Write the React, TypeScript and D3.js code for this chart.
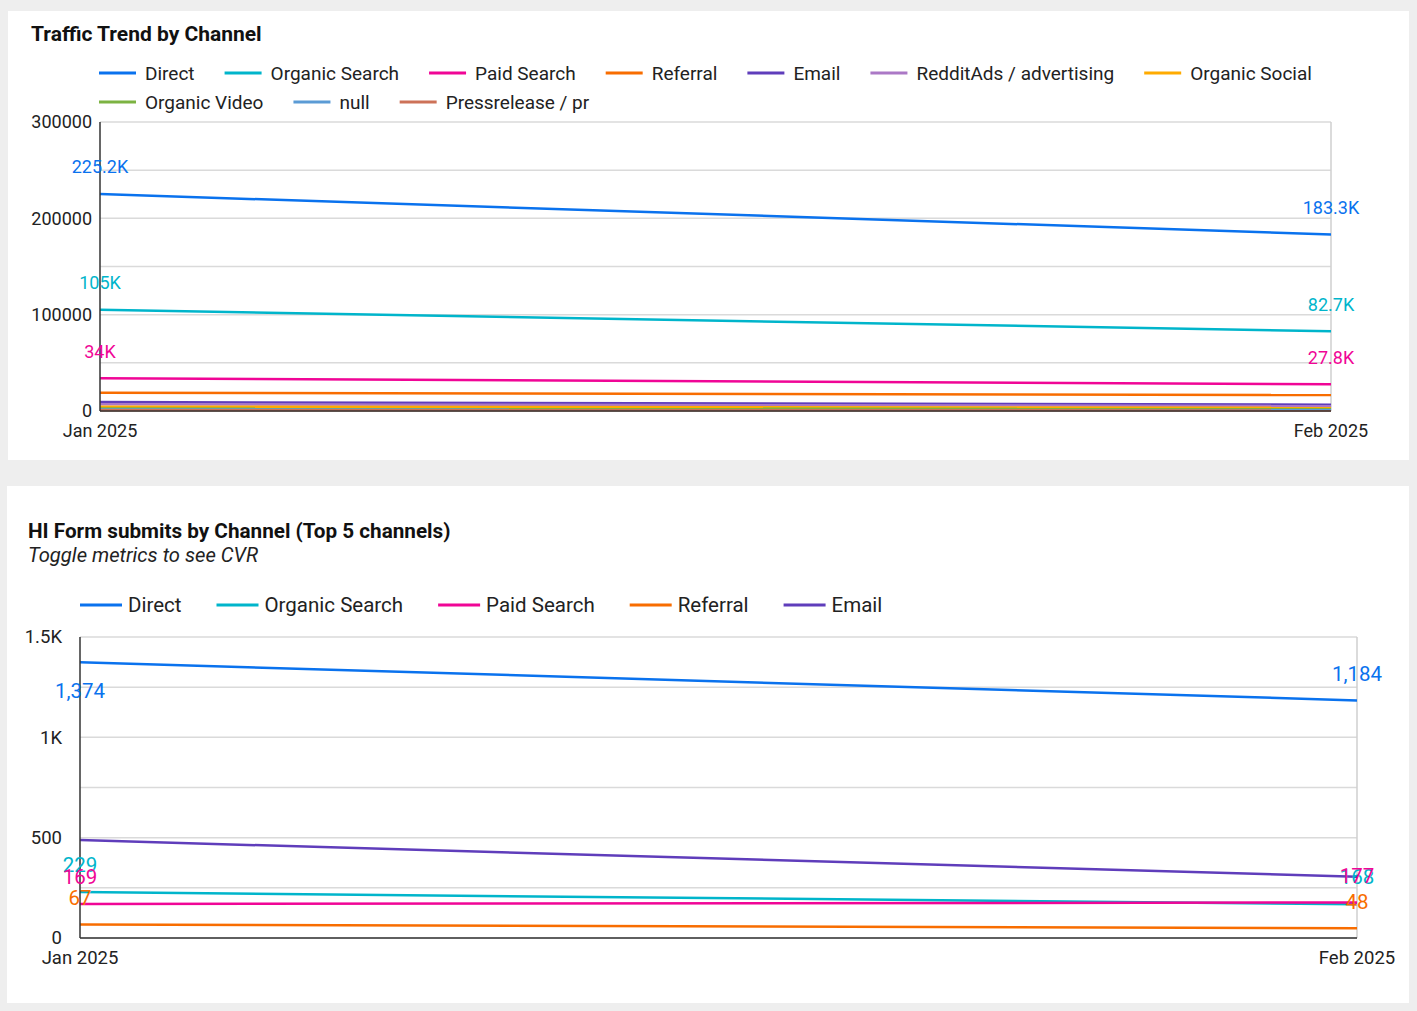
import React from "react";
import * as d3 from "d3";

// x categories
const months = ["Jan 2025", "Feb 2025"];

// Traffic Trend by Channel (sessions)
const trafficDirect = [225200, 183300];
const trafficOrganicSearch = [105000, 82700];
const trafficPaidSearch = [34000, 27800];
const trafficReferral = [19000, 16600];
const trafficEmail = [9300, 6500];
const trafficRedditAds = [7000, 5200];
const trafficOrganicSocial = [4500, 3400];
const trafficOrganicVideo = [2500, 2000];
const trafficNull = [1500, 1200];
const trafficPressrelease = [800, 600];
const trafficTicks = [0, 100000, 200000, 300000];

// HI Form submits by Channel
const formDirect = [1374, 1184];
const formOrganicSearch = [229, 168];
const formPaidSearch = [169, 177];
const formReferral = [67, 48];
const formEmail = [488, 305];
const formTicks = [0, 500, 1000, 1500];

const FONT = "Roboto, 'Noto Sans', sans-serif";

interface ISeries {
  name: string;
  color: string;
  values: number[];
  labeled: boolean;
}

interface IChartProps {
  title: string;
  subtitle?: string;
  panel: { x: number; y: number; w: number; h: number };
  titleX: number;
  titleY: number;
  titleSize: number;
  plot: { left: number; right: number; top: number; bottom: number };
  series: ISeries[];
  yMax: number;
  gridStep: number;
  ticks: number[];
  tickFormat: (v: number) => string;
  tickOffset: number;
  labelFormat: (v: number) => string;
  legendX: number;
  legendY: number;
  legendRowGap: number;
  legendLine: number;
  legendTextGap: number;
  legendItemGap: number;
  legendSize: number;
  legendMaxX: number;
  tickSize: number;
  labelSize: number;
}

let ctx: CanvasRenderingContext2D | null = null;
const measure = (text: string, size: number) => {
  if (!ctx) ctx = document.createElement("canvas").getContext("2d");
  if (!ctx) return text.length * size * 0.5;
  ctx.font = `${size}px Roboto`;
  return ctx.measureText(text).width;
};

function LineChart(p: IChartProps) {
  const x = d3
    .scalePoint<string>()
    .domain(months)
    .range([p.plot.left, p.plot.right]);
  const y = d3
    .scaleLinear()
    .domain([0, p.yMax])
    .range([p.plot.bottom, p.plot.top]);

  const grid = d3.range(0, p.yMax + 1, p.gridStep);

  const line = d3
    .line<number>()
    .x((_, i) => x(months[i]) as number)
    .y((d) => y(d));

  // legend layout
  let lx = p.legendX;
  let ly = p.legendY;
  const legendItems = p.series.map((s) => {
    const w = p.legendLine + p.legendTextGap + measure(s.name, p.legendSize);
    if (lx + w > p.legendMaxX) {
      lx = p.legendX;
      ly += p.legendRowGap;
    }
    const item = { s, x: lx, y: ly };
    lx += w + p.legendItemGap;
    return item;
  });

  return (
    <g>
      <rect x={p.panel.x} y={p.panel.y} width={p.panel.w} height={p.panel.h} fill="#fff" />
      <text x={p.titleX} y={p.titleY} fontSize={p.titleSize} fontWeight="bold" fill="#111">
        {p.title}
      </text>
      {p.subtitle && (
        <text x={p.titleX} y={p.titleY + 24} fontSize={p.titleSize - 0.5} fontStyle="italic" fill="#222">
          {p.subtitle}
        </text>
      )}

      {legendItems.map((it) => (
        <g key={it.s.name}>
          <line
            x1={it.x}
            x2={it.x + p.legendLine}
            y1={it.y}
            y2={it.y}
            stroke={it.s.color}
            strokeWidth={3}
          />
          <text
            x={it.x + p.legendLine + p.legendTextGap}
            y={it.y}
            dy="0.35em"
            fontSize={p.legendSize}
            fill="#222"
          >
            {it.s.name}
          </text>
        </g>
      ))}

      {grid.map((g) => (
        <line
          key={g}
          x1={p.plot.left}
          x2={p.plot.right}
          y1={y(g)}
          y2={y(g)}
          stroke="#dadada"
          strokeWidth={1.5}
        />
      ))}
      <line
        x1={p.plot.right}
        x2={p.plot.right}
        y1={p.plot.top}
        y2={p.plot.bottom}
        stroke="#cfcfcf"
        strokeWidth={1.5}
      />

      {p.ticks.map((t) => (
        <text
          key={t}
          x={p.plot.left - p.tickOffset}
          y={y(t)}
          dy="0.35em"
          textAnchor="end"
          fontSize={p.tickSize}
          fill="#222"
        >
          {p.tickFormat(t)}
        </text>
      ))}
      {months.map((m) => (
        <text
          key={m}
          x={x(m)}
          y={p.plot.bottom + 20}
          dy="0.35em"
          textAnchor="middle"
          fontSize={p.tickSize}
          fill="#222"
        >
          {m}
        </text>
      ))}

      {p.series.map((s) => (
        <path
          key={s.name}
          d={line(s.values) || ""}
          fill="none"
          stroke={s.color}
          strokeWidth={2.5}
        />
      ))}

      <line
        x1={p.plot.left}
        x2={p.plot.left}
        y1={p.plot.top}
        y2={p.plot.bottom}
        stroke="#333"
        strokeWidth={1.5}
      />
      <line
        x1={p.plot.left}
        x2={p.plot.right}
        y1={p.plot.bottom}
        y2={p.plot.bottom}
        stroke="#333"
        strokeWidth={1.5}
      />

      {p.series
        .filter((s) => s.labeled)
        .map((s) =>
          s.values.map((v, i) => {
            let ty = y(v) - 27;
            if (ty < p.plot.top) ty = y(v) + 29;
            return (
              <text
                key={s.name + i}
                x={x(months[i])}
                y={ty}
                dy="0.35em"
                textAnchor="middle"
                fontSize={p.labelSize}
                fill={s.color}
              >
                {p.labelFormat(v)}
              </text>
            );
          })
        )}
    </g>
  );
}

const kFormat = (v: number) => {
  const k = v / 1000;
  return (Number.isInteger(k) ? k.toString() : k.toFixed(1)) + "K";
};

const kTick = (v: number) => (v >= 1000 ? kFormat(v) : String(v));

export default function App() {
  const trafficSeries: ISeries[] = [
    { name: "Direct", color: "#0a72ee", values: trafficDirect, labeled: true },
    { name: "Organic Search", color: "#00b5cb", values: trafficOrganicSearch, labeled: true },
    { name: "Paid Search", color: "#f00596", values: trafficPaidSearch, labeled: true },
    { name: "Referral", color: "#f86d00", values: trafficReferral, labeled: false },
    { name: "Email", color: "#5f3dbb", values: trafficEmail, labeled: false },
    { name: "RedditAds / advertising", color: "#ab78c6", values: trafficRedditAds, labeled: false },
    { name: "Organic Social", color: "#ffab00", values: trafficOrganicSocial, labeled: false },
    { name: "Organic Video", color: "#7cb342", values: trafficOrganicVideo, labeled: false },
    { name: "null", color: "#5b9bd5", values: trafficNull, labeled: false },
    { name: "Pressrelease / pr", color: "#cd7258", values: trafficPressrelease, labeled: false },
  ];

  const formSeries: ISeries[] = [
    { name: "Direct", color: "#0a72ee", values: formDirect, labeled: true },
    { name: "Organic Search", color: "#00b5cb", values: formOrganicSearch, labeled: true },
    { name: "Paid Search", color: "#f00596", values: formPaidSearch, labeled: true },
    { name: "Referral", color: "#f86d00", values: formReferral, labeled: true },
    { name: "Email", color: "#5f3dbb", values: formEmail, labeled: false },
  ];

  return (
    <svg
      width={1417}
      height={1011}
      style={{ position: "absolute", left: 0, top: 0, fontFamily: FONT }}
    >
      <rect width={1417} height={1011} fill="#eeeeee" />
      <LineChart
        title="Traffic Trend by Channel"
        panel={{ x: 8, y: 11, w: 1401, h: 449 }}
        titleX={31}
        titleY={41}
        titleSize={21}
        plot={{ left: 100, right: 1331, top: 122, bottom: 411 }}
        series={trafficSeries}
        yMax={300000}
        gridStep={50000}
        ticks={trafficTicks}
        tickFormat={(v) => String(v)}
        tickOffset={8}
        labelFormat={kFormat}
        legendX={99}
        legendY={73}
        legendRowGap={29}
        legendLine={37}
        legendTextGap={9}
        legendItemGap={30}
        legendSize={19}
        legendMaxX={1380}
        tickSize={18}
        labelSize={18}
      />
      <LineChart
        title="HI Form submits by Channel (Top 5 channels)"
        subtitle="Toggle metrics to see CVR"
        panel={{ x: 7, y: 486, w: 1402, h: 517 }}
        titleX={28}
        titleY={538}
        titleSize={20.7}
        plot={{ left: 80, right: 1357, top: 637, bottom: 938 }}
        series={formSeries}
        yMax={1500}
        gridStep={250}
        ticks={formTicks}
        tickFormat={kTick}
        tickOffset={18}
        labelFormat={d3.format(",")}
        legendX={80}
        legendY={605}
        legendRowGap={29}
        legendLine={42}
        legendTextGap={6}
        legendItemGap={35}
        legendSize={20.5}
        legendMaxX={1380}
        tickSize={18.5}
        labelSize={20.5}
      />
    </svg>
  );
}
